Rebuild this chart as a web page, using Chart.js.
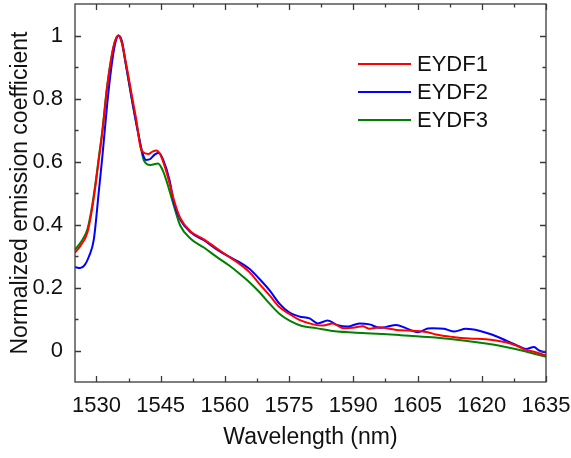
<!DOCTYPE html>
<html>
<head>
<meta charset="utf-8">
<script src="https://cdn.jsdelivr.net/npm/chart.js@4.4.0/dist/chart.umd.min.js"></script>
<style>
html, body { margin: 0; padding: 0; background: #fff; }
#wrap { width: 571px; height: 458px; }
</style>
</head>
<body>
<div id="wrap"><canvas id="ChartEmission" width="571" height="458"></canvas></div>
<script>
// values (wavelength in nm, normalized coefficient)
const eydf1Wl = [1525, 1526.3, 1527.9, 1529.0, 1529.8, 1530.6, 1531.4, 1532.5, 1533.5, 1534.3, 1535.1, 1535.9, 1536.8, 1538.4, 1539.4, 1540.3, 1541.2, 1542.2, 1543.2, 1544.0, 1545.0, 1546.5, 1548.1, 1549.6, 1552.0, 1555.1, 1558, 1561.1, 1563.5, 1565.8, 1568.1, 1570.5, 1572.8, 1575.1, 1577.4, 1580.6, 1582.9, 1585.2, 1587.6, 1589.9, 1592.2, 1593.8, 1596.1, 1598.4, 1600.8, 1603.9, 1607.4, 1609.3, 1613.2, 1617.1, 1621.0, 1623.3, 1625.6, 1628.0, 1630.3, 1632.2, 1635];
const eydf1Val = [0.311, 0.333, 0.375, 0.45, 0.525, 0.61, 0.695, 0.835, 0.93, 0.98, 1.0, 0.98, 0.92, 0.80, 0.725, 0.645, 0.627, 0.624, 0.632, 0.635, 0.62, 0.56, 0.478, 0.42, 0.378, 0.353, 0.325, 0.296, 0.274, 0.248, 0.211, 0.174, 0.137, 0.116, 0.097, 0.083, 0.079, 0.086, 0.071, 0.072, 0.077, 0.069, 0.074, 0.069, 0.064, 0.063, 0.058, 0.051, 0.043, 0.038, 0.036, 0.032, 0.026, 0.016, 0.002, -0.004, -0.016];

const eydf2Wl = [1525, 1526.2, 1527.3, 1528.3, 1529.4, 1530.6, 1531.4, 1532.5, 1533.5, 1534.4, 1535.2, 1536.0, 1536.8, 1538.4, 1539.9, 1540.8, 1541.6, 1542.6, 1543.6, 1544.6, 1545.6, 1547.1, 1548.1, 1549.6, 1552.0, 1555.1, 1558, 1561.1, 1563.5, 1565.8, 1568.1, 1570.5, 1572.8, 1575.1, 1577.4, 1579.8, 1581.7, 1584.0, 1586.4, 1588.7, 1591.4, 1593.8, 1596.1, 1597.7, 1600.0, 1602.3, 1605.0, 1607.4, 1608.5, 1611.2, 1613.6, 1616.3, 1619.4, 1622.5, 1625.6, 1628.0, 1630.3, 1632.2, 1633.4, 1635];
const eydf2Val = [0.265, 0.262, 0.272, 0.30, 0.353, 0.51, 0.617, 0.78, 0.90, 0.975, 1.0, 0.98, 0.915, 0.79, 0.68, 0.625, 0.605, 0.608, 0.622, 0.628, 0.605, 0.54, 0.47, 0.415, 0.375, 0.35, 0.322, 0.297, 0.28, 0.259, 0.227, 0.19, 0.148, 0.12, 0.108, 0.102, 0.086, 0.095, 0.08, 0.076, 0.086, 0.083, 0.072, 0.075, 0.081, 0.071, 0.058, 0.07, 0.071, 0.069, 0.06, 0.069, 0.063, 0.05, 0.032, 0.018, 0.005, 0.011, 0.0, -0.007];

const eydf3Wl = [1525, 1526.3, 1527.9, 1529.0, 1529.8, 1530.6, 1531.4, 1532.5, 1533.5, 1534.3, 1535.1, 1535.9, 1536.8, 1538.4, 1539.9, 1541.1, 1542.6, 1544.4, 1545.5, 1546.5, 1548.1, 1549.6, 1552.0, 1555.1, 1558, 1561.1, 1563.5, 1565.8, 1568.1, 1570.5, 1572.8, 1575.1, 1578.0, 1581.3, 1585.2, 1593, 1600.8, 1607.4, 1613.2, 1621, 1625.6, 1630.3, 1635];
const eydf3Val = [0.32, 0.343, 0.385, 0.459, 0.533, 0.617, 0.70, 0.839, 0.93, 0.98, 1.0, 0.978, 0.913, 0.786, 0.68, 0.603, 0.589, 0.594, 0.572, 0.533, 0.459, 0.396, 0.355, 0.327, 0.298, 0.269, 0.243, 0.216, 0.185, 0.148, 0.116, 0.095, 0.078, 0.071, 0.062, 0.055, 0.049, 0.043, 0.036, 0.022, 0.011, -0.003, -0.02];

const xTicks = [1530, 1545, 1560, 1575, 1590, 1605, 1620, 1635];
const xMinor = [1537.5, 1552.5, 1567.5, 1582.5, 1597.5, 1612.5, 1627.5];
const yTicks = [0, 0.2, 0.4, 0.6, 0.8, 1];
const yMinor = [0.1, 0.3, 0.5, 0.7, 0.9];

const fontFamily = '"Liberation Sans", Arial, sans-serif';
const textColor = '#111';

const pts = (wl, val) => wl.map((x, i) => ({ x: x, y: val[i] }));

// box round the plot with inward ticks on all four sides
const frameTicks = {
    id: 'frameTicks',
    afterDraw(chart) {
        const { ctx, chartArea: a, scales: { x, y } } = chart;
        ctx.save();
        ctx.strokeStyle = '#3a3a3a';
        ctx.lineWidth = 1.3;
        ctx.strokeRect(a.left, a.top, a.right - a.left, a.bottom - a.top);
        ctx.beginPath();
        const xm = (vals, len) => vals.forEach(v => {
            const p = Math.round(x.getPixelForValue(v)) + 0.5;
            ctx.moveTo(p, a.bottom); ctx.lineTo(p, a.bottom - len);
            ctx.moveTo(p, a.top); ctx.lineTo(p, a.top + len);
        });
        const ym = (vals, len) => vals.forEach(v => {
            const p = Math.round(y.getPixelForValue(v)) + 0.5;
            ctx.moveTo(a.left, p); ctx.lineTo(a.left + len, p);
            ctx.moveTo(a.right, p); ctx.lineTo(a.right - len, p);
        });
        xm(xTicks, 6); xm(xMinor, 3.5);
        ym(yTicks, 6); ym(yMinor, 3.5);
        ctx.stroke();
        ctx.restore();
    }
};

const legendBox = {
    id: 'legendBox',
    afterDraw(chart) {
        const { ctx, chartArea: a } = chart;
        ctx.save();
        ctx.font = '22px ' + fontFamily;
        ctx.textBaseline = 'middle';
        chart.data.datasets.forEach((ds, i) => {
            const yy = a.top + 60 + i * 28;
            ctx.strokeStyle = ds.borderColor;
            ctx.lineWidth = 2;
            ctx.beginPath();
            ctx.moveTo(a.right - 188, yy);
            ctx.lineTo(a.right - 135, yy);
            ctx.stroke();
            ctx.fillStyle = textColor;
            ctx.fillText(ds.label, a.right - 129, yy + 1);
        });
        ctx.restore();
    }
};

new Chart(document.getElementById('ChartEmission'), {
    type: 'line',
    data: {
        datasets: [
            { label: 'EYDF1', data: pts(eydf1Wl, eydf1Val), borderColor: '#ff0000' },
            { label: 'EYDF2', data: pts(eydf2Wl, eydf2Val), borderColor: '#0000ff' },
            { label: 'EYDF3', data: pts(eydf3Wl, eydf3Val), borderColor: '#008000' }
        ]
    },
    options: {
        responsive: false,
        animation: false,
        devicePixelRatio: 1,
        layout: { padding: { top: 4, right: 25, left: 0, bottom: 0 } },
        elements: {
            point: { radius: 0 },
            line: { borderWidth: 2, cubicInterpolationMode: 'monotone', fill: false }
        },
        plugins: {
            legend: { display: false },
            tooltip: { enabled: false }
        },
        scales: {
            x: {
                type: 'linear',
                min: 1525,
                max: 1635,
                afterBuildTicks: s => { s.ticks = xTicks.map(v => ({ value: v })); },
                afterFit: s => {
                    s.height = 76;
                    s.paddingLeft = 0;
                    s.paddingRight = 0;
                },
                grid: { display: false },
                border: { display: false },
                ticks: {
                    color: textColor,
                    font: { family: fontFamily, size: 22 },
                    padding: 3,
                    maxRotation: 0,
                    callback: v => String(v)
                },
                title: {
                    display: true,
                    text: 'Wavelength (nm)',
                    color: textColor,
                    font: { family: fontFamily, size: 23 },
                    padding: { top: 0, bottom: 7 }
                }
            },
            y: {
                type: 'linear',
                min: -0.1,
                max: 1.1,
                afterBuildTicks: s => { s.ticks = yTicks.map(v => ({ value: v })); },
                afterFit: s => {
                    s.width = 75;
                    s.paddingTop = 0;
                    s.paddingBottom = 0;
                },
                grid: { display: false },
                border: { display: false },
                ticks: {
                    color: textColor,
                    font: { family: fontFamily, size: 22 },
                    padding: 4,
                    callback: v => String(Math.round(v * 10) / 10)
                },
                title: {
                    display: true,
                    text: 'Normalized emission coefficient',
                    color: textColor,
                    font: { family: fontFamily, size: 23 },
                    padding: { top: 7, bottom: 0 }
                }
            }
        }
    },
    plugins: [frameTicks, legendBox]
});
</script>
</body>
</html>
